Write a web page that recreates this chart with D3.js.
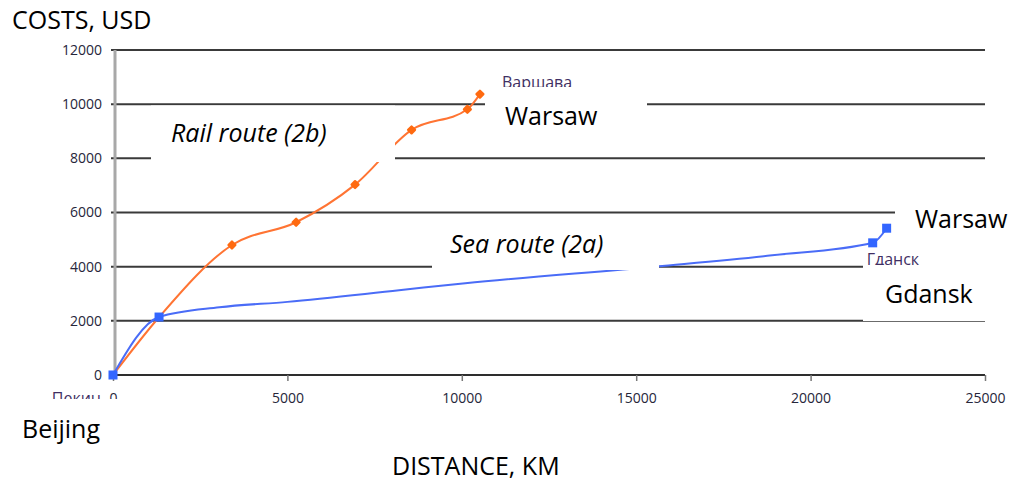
<!DOCTYPE html>
<html>
<head>
<meta charset="utf-8">
<script src="https://cdn.jsdelivr.net/npm/d3@7"></script>
<style>
  html, body { margin: 0; padding: 0; background: #fff; }
  svg { display: block; }
  .big { font-family: "Open Sans", sans-serif; font-size: 25px; fill: #000; }
  .tick text { font-family: "Open Sans", sans-serif; font-size: 14px; fill: #26263a; }
  .ptlab { font-family: "Open Sans", sans-serif; font-size: 16px; fill: #3f2f63; }
</style>
</head>
<body>
<script>
// ---- data ----
const railDistance = [0, 1330, 3410, 5250, 6940, 8560, 10160, 10520];
const railCost     = [0, 2150, 4800, 5640, 7030, 9050, 9810, 10370];
const railMarker   = [false, false, true, true, true, true, true, true];

const seaDistance = [0, 1320, 3050, 5000, 8200, 10100, 15600, 18900, 21780, 22180];
const seaCost     = [0, 2140, 2500, 2700, 3130, 3390, 4010, 4420, 4880, 5420];
const seaMarker   = [true, true, false, false, false, false, false, false, true, true];

const xTicks = [0, 5000, 10000, 15000, 20000, 25000];
const yTicks = [0, 2000, 4000, 6000, 8000, 10000, 12000];

const yTitle = "COSTS, USD";
const xTitle = "DISTANCE, KM";
const railTitle = "Rail route (2b)";
const seaTitle = "Sea route (2a)";
const ruLabels = [{t: "Варшава", s: "rail", i: 7}, {t: "Гданск", s: "sea", i: 8}, {t: "Пекин", s: "sea", i: 0}];

// ---- chart ----
const W = 1015, H = 486;
const svg = d3.select("body").append("svg").attr("width", W).attr("height", H);
svg.append("rect").attr("width", W).attr("height", H).attr("fill", "#fff");

const x = d3.scaleLinear().domain([0, 25000]).range([113, 985]);
const y = d3.scaleLinear().domain([0, 12000]).range([375, 50]);

// gridlines
svg.append("g").selectAll("line").data(yTicks.filter(d => d > 0)).join("line")
  .attr("x1", 111).attr("x2", x(25000))
  .attr("y1", d => y(d)).attr("y2", d => y(d))
  .attr("stroke", "#3a3a3a").attr("stroke-width", 2);

// y axis
const yAxis = svg.append("g").attr("transform", "translate(111,0)")
  .call(d3.axisLeft(y).tickValues(yTicks).tickSize(0).tickPadding(9).tickFormat(d3.format("d")));
yAxis.select(".domain").remove();
svg.append("line").attr("x1", 115).attr("x2", 115).attr("y1", y(12000)).attr("y2", y(0) + 1)
  .attr("stroke", "#a8a8a8").attr("stroke-width", 3);

// x axis
const xAxis = svg.append("g").attr("transform", `translate(0,${y(0)})`)
  .call(d3.axisBottom(x).tickValues(xTicks).tickSize(6).tickPadding(12).tickFormat(d3.format("d")));
xAxis.select(".domain").attr("stroke", "#2e2e2e").attr("stroke-width", 2).attr("d", `M${x(0)},0H${x(25000)}`);
xAxis.selectAll(".tick line").attr("stroke", "#777").attr("stroke-width", 1.5);

// lines
const rail = railDistance.map((d, i) => ({d, c: railCost[i], m: railMarker[i]}));
const sea = seaDistance.map((d, i) => ({d, c: seaCost[i], m: seaMarker[i]}));
const smooth = d3.line().x(p => x(p.d)).y(p => y(p.c)).curve(d3.curveMonotoneX);

svg.append("path").attr("d", smooth(rail)).attr("fill", "none")
  .attr("stroke", "#ff7433").attr("stroke-width", 2);
svg.append("path").attr("d", smooth(sea)).attr("fill", "none")
  .attr("stroke", "#4a6cf7").attr("stroke-width", 2);

// markers
svg.append("g").selectAll("rect").data(rail.filter(p => p.m)).join("rect")
  .attr("x", -3.6).attr("y", -3.6).attr("width", 7.2).attr("height", 7.2)
  .attr("rx", 1.2)
  .attr("transform", p => `translate(${x(p.d)},${y(p.c)}) rotate(45)`)
  .attr("fill", "#ff6a10");
svg.append("g").selectAll("rect").data(sea.filter(p => p.m)).join("rect")
  .attr("x", p => x(p.d) - 4.5).attr("y", p => y(p.c) - 4.5)
  .attr("width", 9).attr("height", 9)
  .attr("fill", "#3366ff");

// Russian point labels
const series = {rail, sea};
const lab = svg.append("g");
ruLabels.forEach(l => {
  const p = series[l.s][l.i];
  const t = lab.append("text").attr("class", "ptlab").text(l.t);
  if (l.t === "Варшава") t.attr("x", x(p.d) + 22).attr("y", y(p.c) - 6.5);
  else if (l.t === "Гданск") t.attr("x", x(p.d) - 6).attr("y", y(p.c) + 22);
  else t.attr("x", x(p.d) - 12).attr("y", y(p.c) + 29).attr("text-anchor", "end");
});

// white overlay boxes
const boxes = [
  [151, 105.5, 244, 56.5], // rail route
  [485, 87, 162, 62],      // Warsaw (top)
  [432, 215, 227, 55],     // sea route
  [895, 195, 120, 50],     // Warsaw (right)
  [863, 265, 152, 56],     // Gdansk
  [0, 399, 210, 55]        // Beijing
];
svg.append("g").selectAll("rect").data(boxes).join("rect")
  .attr("x", b => b[0]).attr("y", b => b[1]).attr("width", b => b[2]).attr("height", b => b[3])
  .attr("fill", "#fff");

// big texts
const big = [
  {t: yTitle, x: 12, y: 29, it: false},
  {t: railTitle, x: 171, y: 142, it: true},
  {t: "Warsaw", x: 505, y: 125, it: false},
  {t: seaTitle, x: 450, y: 253, it: true},
  {t: "Warsaw", x: 915, y: 228, it: false},
  {t: "Gdansk", x: 885, y: 303, it: false},
  {t: "Beijing", x: 22, y: 438, it: false},
  {t: xTitle, x: 392, y: 475, it: false}
];
svg.append("g").selectAll("text").data(big).join("text")
  .attr("class", "big")
  .attr("x", d => d.x).attr("y", d => d.y)
  .attr("font-style", d => d.it ? "italic" : "normal")
  .text(d => d.t);
</script>
</body>
</html>
